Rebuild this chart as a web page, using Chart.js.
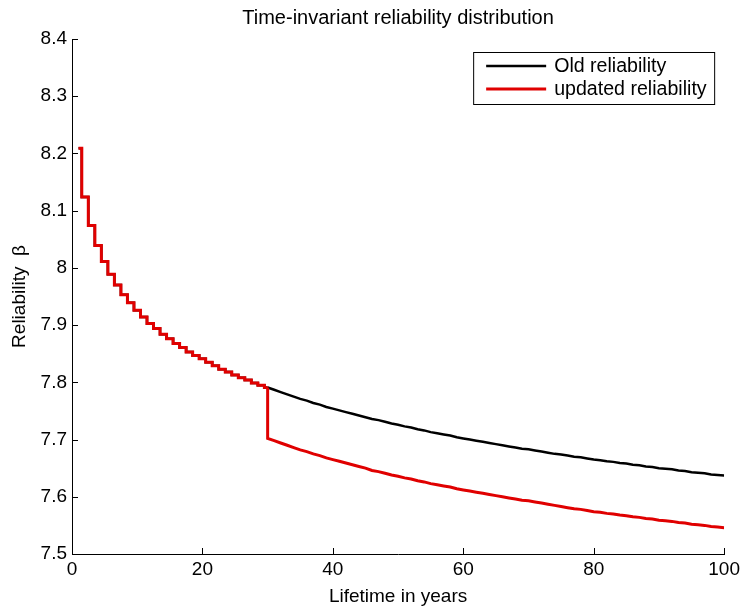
<!DOCTYPE html>
<html>
<head>
<meta charset="utf-8">
<title>Time-invariant reliability distribution</title>
<script src="https://cdn.jsdelivr.net/npm/chart.js@4.4.1/dist/chart.umd.min.js"></script>
<style>
  html, body { margin: 0; padding: 0; background: #fff; }
  #wrap { width: 744px; height: 611px; position: relative; }
</style>
</head>
<body>
<div id="wrap"><canvas id="chartCanvas" width="744" height="611"></canvas></div>
<script>
// Lifetime grid (years) and reliability index per year
const years = [
  1, 2, 3, 4, 5, 6, 7, 8, 9, 10, 11, 12, 13, 14, 15, 16, 17, 18, 19, 20,
  21, 22, 23, 24, 25, 26, 27, 28, 29, 30, 31, 32, 33, 34, 35, 36, 37, 38, 39, 40,
  41, 42, 43, 44, 45, 46, 47, 48, 49, 50, 51, 52, 53, 54, 55, 56, 57, 58, 59, 60,
  61, 62, 63, 64, 65, 66, 67, 68, 69, 70, 71, 72, 73, 74, 75, 76, 77, 78, 79, 80,
  81, 82, 83, 84, 85, 86, 87, 88, 89, 90, 91, 92, 93, 94, 95, 96, 97, 98, 99, 100
];

const oldBeta = [
  8.209, 8.124, 8.074, 8.039, 8.011, 7.989, 7.970, 7.953, 7.939, 7.926,
  7.914, 7.903, 7.894, 7.884, 7.876, 7.868, 7.861, 7.853, 7.847, 7.841,
  7.835, 7.829, 7.823, 7.818, 7.813, 7.808, 7.804, 7.799, 7.795, 7.791,
  7.787, 7.783, 7.779, 7.775, 7.771, 7.768, 7.764, 7.761, 7.757, 7.754,
  7.751, 7.748, 7.745, 7.742, 7.739, 7.736, 7.734, 7.731, 7.728, 7.726,
  7.723, 7.721, 7.718, 7.716, 7.713, 7.711, 7.709, 7.707, 7.704, 7.702,
  7.700, 7.698, 7.696, 7.694, 7.692, 7.690, 7.688, 7.686, 7.684, 7.683,
  7.681, 7.679, 7.677, 7.675, 7.674, 7.672, 7.670, 7.669, 7.667, 7.665,
  7.664, 7.662, 7.661, 7.659, 7.658, 7.656, 7.655, 7.653, 7.652, 7.650,
  7.649, 7.648, 7.646, 7.645, 7.643, 7.642, 7.641, 7.639, 7.638, 7.637
];

// Update happens at year 30; from there on the updated index runs lower
const updateYear = 30;
const updatedTail = [
  7.702,                                                             // year 30
  7.698, 7.694, 7.690, 7.686, 7.682, 7.679, 7.675, 7.672, 7.668, 7.665,
  7.662, 7.659, 7.656, 7.653, 7.650, 7.646, 7.644, 7.641, 7.638, 7.636,
  7.633, 7.631, 7.628, 7.626, 7.623, 7.621, 7.619, 7.617, 7.614, 7.612,
  7.610, 7.608, 7.606, 7.604, 7.602, 7.600, 7.598, 7.596, 7.594, 7.593,
  7.591, 7.589, 7.587, 7.585, 7.583, 7.581, 7.579, 7.578, 7.576, 7.574,
  7.573, 7.571, 7.570, 7.568, 7.567, 7.565, 7.564, 7.562, 7.561, 7.559,
  7.558, 7.557, 7.555, 7.554, 7.552, 7.551, 7.550, 7.548, 7.547, 7.546
];

const xTicks = [0, 20, 40, 60, 80, 100];
const yTicks = [7.5, 7.6, 7.7, 7.8, 7.9, 8.0, 8.1, 8.2, 8.3, 8.4];

const FONT = '"Liberation Sans", Arial, Helvetica, sans-serif';
const BLACK = '#000000';
const RED = '#e00000';

// early years are drawn as yearly stairs, the later part as a plain line
const oldEarly = [], oldLate = [], updLate = [];
years.forEach((yr, i) => {
  if (yr <= updateYear) oldEarly.push({ x: yr, y: oldBeta[i] });
  if (yr >= updateYear) oldLate.push({ x: yr, y: oldBeta[i] });
});
updLate.push({ x: updateYear, y: oldBeta[years.indexOf(updateYear)] });
updatedTail.forEach((v, i) => updLate.push({ x: updateYear + i, y: v }));

// small inward tick marks on the left and bottom axes
const insideTicks = {
  id: 'insideTicks',
  afterDatasetsDraw(chart) {
    const { ctx, chartArea: a, scales: { x, y } } = chart;
    ctx.save();
    ctx.strokeStyle = '#000';
    ctx.lineWidth = 1;
    ctx.beginPath();
    xTicks.forEach(v => {
      const px = Math.round(x.getPixelForValue(v)) + 0.5;
      ctx.moveTo(px, a.bottom);
      ctx.lineTo(px, a.bottom - 6);
    });
    yTicks.forEach(v => {
      const py = Math.round(y.getPixelForValue(v)) + 0.5;
      ctx.moveTo(a.left, py);
      ctx.lineTo(a.left + 6, py);
    });
    ctx.stroke();
    ctx.restore();
  }
};

// boxed legend in the upper right corner of the plot
const boxLegend = {
  id: 'boxLegend',
  afterDraw(chart) {
    const { ctx, chartArea: a } = chart;
    const w = 241, h = 52;
    const left = a.right - 10 - w, top = a.top + 13;
    ctx.save();
    ctx.fillStyle = '#fff';
    ctx.fillRect(left, top, w, h);
    ctx.strokeStyle = '#000';
    ctx.lineWidth = 1;
    ctx.strokeRect(left + 0.5, top + 0.5, w, h);
    const items = chart.data.datasets
      .filter(ds => ds.legendRank)
      .sort((p, q) => p.legendRank - q.legendRank);
    ctx.font = '19.6px ' + FONT;
    ctx.textBaseline = 'middle';
    items.forEach((ds, i) => {
      const cy = top + 14 + i * 23;
      ctx.strokeStyle = ds.borderColor;
      ctx.lineWidth = ds.borderWidth;
      ctx.beginPath();
      ctx.moveTo(left + 13, cy);
      ctx.lineTo(left + 73, cy);
      ctx.stroke();
      ctx.fillStyle = '#000';
      ctx.fillText(ds.label, left + 81, cy + 1);
    });
    ctx.restore();
  }
};

const lineStyle = { pointRadius: 0, fill: false, tension: 0 };

const ctx = document.getElementById('chartCanvas').getContext('2d');
const chart = new Chart(ctx, {
  type: 'line',
  data: {
    // first dataset is painted last, so the red curve sits on top
    datasets: [
      { label: 'updated reliability', legendRank: 2, data: updLate,
        borderColor: RED, borderWidth: 3, stepped: false, ...lineStyle },
      { label: 'updated reliability', data: oldEarly,
        borderColor: RED, borderWidth: 3, stepped: 'middle', ...lineStyle },
      { label: 'Old reliability', legendRank: 1, data: oldLate,
        borderColor: BLACK, borderWidth: 2.5, stepped: false, ...lineStyle },
      { label: 'Old reliability', data: oldEarly,
        borderColor: BLACK, borderWidth: 2.5, stepped: 'middle', ...lineStyle }
    ]
  },
  options: {
    responsive: false,
    animation: false,
    layout: { padding: { top: 0, right: 19, bottom: 0, left: 0 } },
    plugins: {
      legend: { display: false },
      tooltip: { enabled: false },
      title: {
        display: true,
        fullSize: false,
        text: 'Time-invariant reliability distribution',
        color: '#000',
        font: { family: FONT, size: 20, weight: 'normal' },
        padding: { top: 6, bottom: 9 }
      }
    },
    scales: {
      x: {
        type: 'linear',
        min: 0,
        max: 100,
        afterBuildTicks: s => { s.ticks = xTicks.map(v => ({ value: v })); },
        ticks: {
          color: '#000',
          font: { family: FONT, size: 19 },
          padding: 4,
          maxRotation: 0
        },
        grid: { display: false, drawTicks: false },
        border: { display: true, color: '#000', width: 1 },
        title: {
          display: true,
          text: 'Lifetime in years',
          color: '#000',
          font: { family: FONT, size: 19 },
          padding: { top: 0, bottom: 3 }
        },
        afterFit: s => { s.height = 57; }
      },
      y: {
        type: 'linear',
        min: 7.5,
        max: 8.4,
        afterBuildTicks: s => { s.ticks = yTicks.map(v => ({ value: v })); },
        ticks: {
          color: '#000',
          font: { family: FONT, size: 19 },
          padding: 5,
          callback: v => String(Number(v.toFixed(1)))
        },
        grid: { display: false, drawTicks: false },
        border: { display: true, color: '#000', width: 1 },
        title: {
          display: true,
          text: 'Reliability  β',
          color: '#000',
          font: { family: FONT, size: 19 },
          padding: { top: 8, bottom: 0 }
        },
        afterFit: s => { s.width = 72; }
      }
    }
  },
  plugins: [insideTicks, boxLegend]
});
</script>
</body>
</html>
